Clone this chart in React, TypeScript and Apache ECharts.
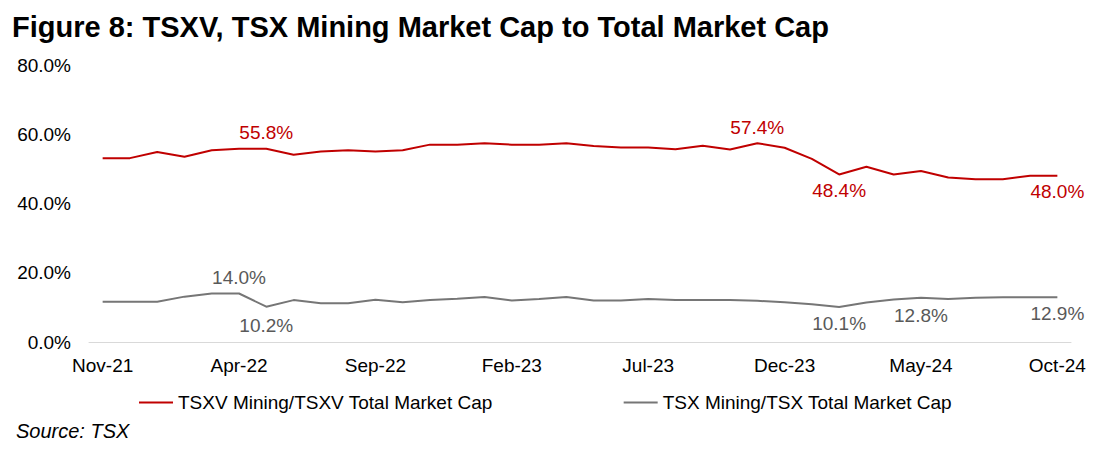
import React, { useEffect, useRef } from "react";
import * as echarts from "echarts";

const months: string[] = [
  "Nov-21", "Dec-21", "Jan-22", "Feb-22", "Mar-22", "Apr-22", "May-22", "Jun-22", "Jul-22", "Aug-22", "Sep-22", "Oct-22",
  "Nov-22", "Dec-22", "Jan-23", "Feb-23", "Mar-23", "Apr-23", "May-23", "Jun-23", "Jul-23", "Aug-23", "Sep-23", "Oct-23",
  "Nov-23", "Dec-23", "Jan-24", "Feb-24", "Mar-24", "Apr-24", "May-24", "Jun-24", "Jul-24", "Aug-24", "Sep-24", "Oct-24",
];

const tsxvMining: number[] = [
  53.1, 53.1, 54.9, 53.5, 55.4, 55.8, 55.8, 54.1, 55.0, 55.4, 55.0, 55.4,
  57.0, 57.0, 57.4, 57.0, 57.0, 57.4, 56.6, 56.2, 56.2, 55.7, 56.7, 55.6,
  57.4, 56.1, 52.9, 48.4, 50.6, 48.4, 49.4, 47.5, 47.0, 47.0, 48.0, 48.0,
];

const tsxMining: number[] = [
  11.6, 11.6, 11.6, 13.1, 14.0, 14.0, 10.2, 12.1, 11.2, 11.2, 12.2, 11.5,
  12.1, 12.5, 13.0, 12.0, 12.4, 13.0, 12.0, 12.0, 12.4, 12.1, 12.1, 12.1,
  11.9, 11.5, 10.9, 10.1, 11.4, 12.3, 12.8, 12.4, 12.8, 12.9, 12.9, 12.9,
];

const seriesNames: string[] = [
  "TSXV Mining/TSXV Total Market Cap",
  "TSX Mining/TSX Total Market Cap",
];

// annotated points: [index, position, distance]
const tsxvLabels: [number, string, number][] = [
  [6, "top", 6],
  [24, "top", 6],
  [27, "bottom", 6],
  [35, "bottom", 6],
];
const tsxLabels: [number, string, number][] = [
  [5, "top", 6],
  [6, "bottom", 9],
  [27, "bottom", 6],
  [30, "bottom", 8],
  [35, "bottom", 6],
];

const yTicks: number[] = [0, 20, 40, 60, 80];

const RED = "#C00000";
const GREY = "#767676";
const FONT = "'Liberation Sans', Arial, sans-serif";

function buildData(values: number[], labels: [number, string, number][], color: string) {
  return values.map((v, i) => {
    const l = labels.find((x) => x[0] === i);
    if (!l) return v;
    return {
      value: v,
      label: {
        show: true,
        position: l[1],
        distance: l[2],
        color,
        fontSize: 19,
        fontFamily: FONT,
        formatter: (p: any) => `${Number(p.value).toFixed(1)}%`,
      },
    };
  });
}

export default function App() {
  const ref = useRef<HTMLDivElement>(null);
  useEffect(() => {
    document.body.style.margin = "0";
    if (!ref.current) return;
    const chart = echarts.init(ref.current, undefined, { renderer: "svg" });
    chart.setOption({
      animation: false,
      backgroundColor: "#ffffff",
      title: [
        {
          text: "Figure 8: TSXV, TSX Mining Market Cap to Total Market Cap",
          left: 7,
          top: 7,
          textStyle: { fontFamily: FONT, fontSize: 29, fontWeight: "bold", color: "#000" },
        },
        {
          text: "Source: TSX",
          left: 11,
          top: 416,
          textStyle: { fontFamily: FONT, fontSize: 20, fontWeight: "normal", fontStyle: "italic", color: "#000" },
        },
      ],
      legend: {
        left: 134,
        top: 388,
        icon: "rect",
        itemWidth: 34,
        itemHeight: 2,
        itemGap: 131,
        data: [
          { name: seriesNames[0], itemStyle: { color: RED, opacity: 1 } },
          { name: seriesNames[1], itemStyle: { color: GREY, opacity: 1 } },
        ],
        textStyle: { fontFamily: FONT, fontSize: 19, color: "#000" },
      },
      grid: { left: 89, right: 33, top: 65, bottom: 107, containLabel: false },
      xAxis: {
        type: "category",
        data: months,
        boundaryGap: true,
        axisTick: { show: false },
        axisLine: { lineStyle: { color: "#D9D9D9", width: 1 } },
        axisLabel: { interval: 4, fontFamily: FONT, fontSize: 19, color: "#000", margin: 14 },
      },
      yAxis: {
        type: "value",
        min: yTicks[0],
        max: yTicks[yTicks.length - 1],
        interval: 20,
        splitLine: { show: false },
        axisLine: { show: false },
        axisTick: { show: false },
        axisLabel: {
          fontFamily: FONT,
          fontSize: 19,
          color: "#000",
          margin: 18,
          formatter: (v: number) => `${v.toFixed(1)}%`,
        },
      },
      series: [
        {
          name: seriesNames[0],
          type: "line",
          symbol: "circle",
          symbolSize: 1,
          showSymbol: true,
          showAllSymbol: true,
          itemStyle: { color: "transparent", borderWidth: 0 },
          lineStyle: { color: RED, width: 2 },
          data: buildData(tsxvMining, tsxvLabels, RED),
        },
        {
          name: seriesNames[1],
          type: "line",
          symbol: "circle",
          symbolSize: 1,
          showSymbol: true,
          showAllSymbol: true,
          itemStyle: { color: "transparent", borderWidth: 0 },
          lineStyle: { color: GREY, width: 2 },
          data: buildData(tsxMining, tsxLabels, "#595959"),
        },
      ],
    });
    return () => chart.dispose();
  }, []);
  return <div ref={ref} style={{ width: 1104, height: 449 }} />;
}
